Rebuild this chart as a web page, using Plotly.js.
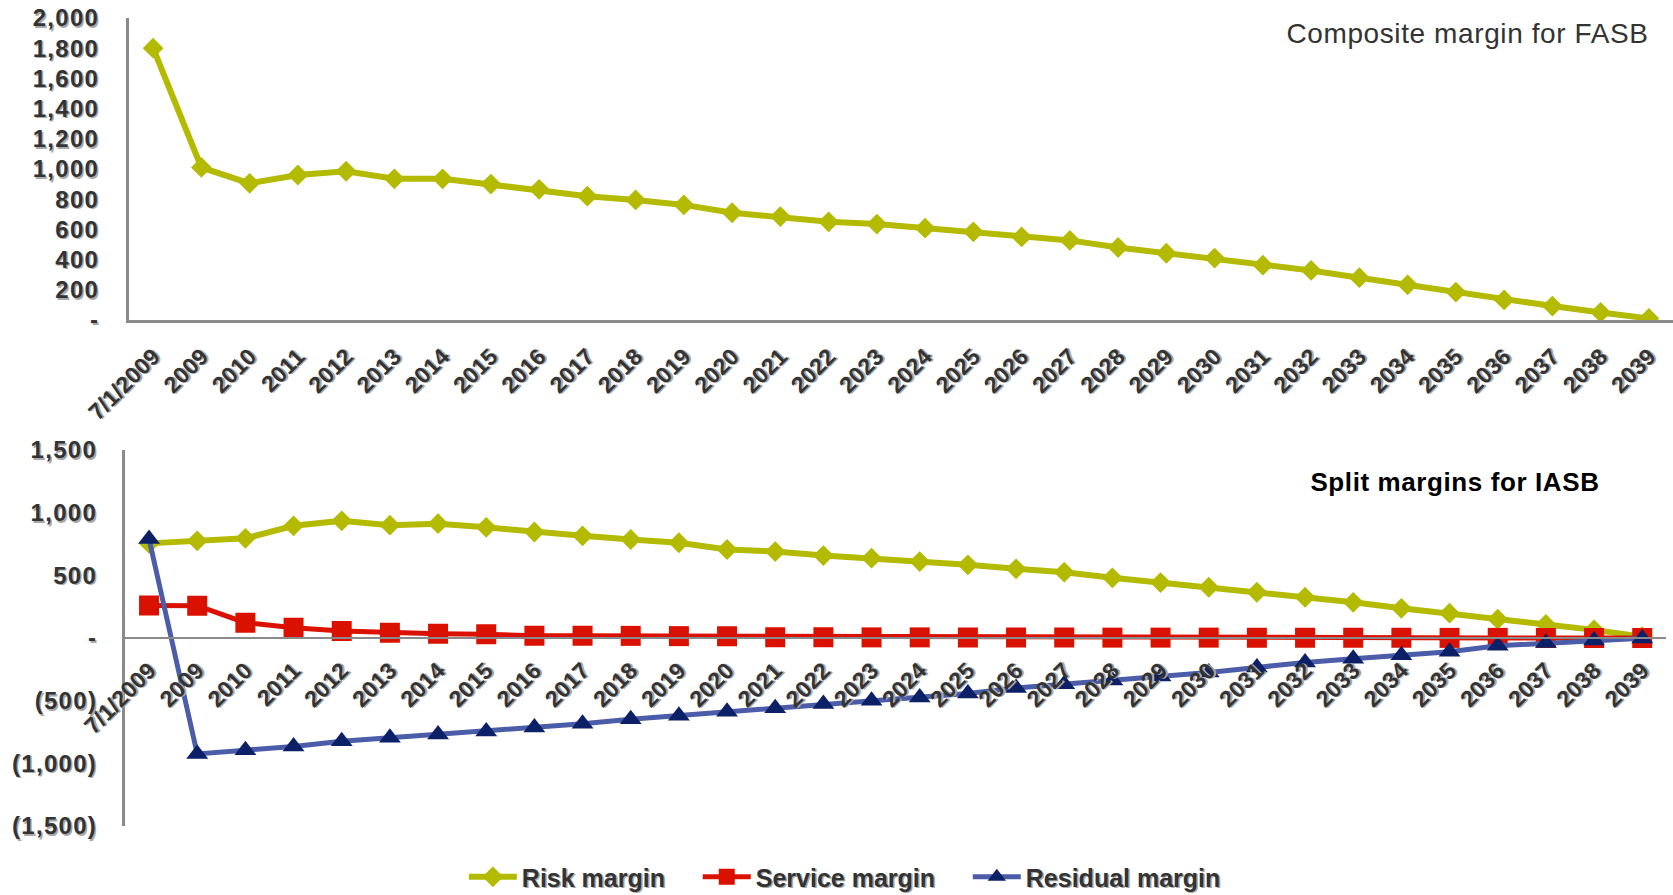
<!DOCTYPE html>
<html>
<head>
<meta charset="utf-8">
<script src="https://cdn.plot.ly/plotly-3.0.1.min.js"></script>
<style>
  html, body { margin: 0; padding: 0; background: #ffffff; }
  #chart { width: 1673px; height: 895px; }
  /* slightly widened lettering for the value-axis labels */
  #chart .ytick text, #chart .y2tick text { letter-spacing: 1.3px; }
  #chart .annotation-text { letter-spacing: 0.6px; }
</style>
</head>
<body>
<div id="chart"></div>
<script>
// Projection periods
const periods = ['7/1/2009', '2009', '2010', '2011', '2012', '2013', '2014', '2015', '2016', '2017',
  '2018', '2019', '2020', '2021', '2022', '2023', '2024', '2025', '2026', '2027', '2028', '2029',
  '2030', '2031', '2032', '2033', '2034', '2035', '2036', '2037', '2038', '2039'];

// FASB: single composite margin
const compositeMargin = [1800, 1010, 905, 960, 985, 935, 935, 900, 865, 820, 795, 762, 710, 685, 650, 635,
  608, 584, 550, 527, 480, 442, 410, 363, 328, 280, 233, 185, 133, 92, 50, 10];

// IASB: split margins
const riskMargin = [755, 775, 795, 895, 935, 900, 912, 883, 846, 815, 786, 760, 706, 690, 658, 637,
  610, 584, 552, 525, 480, 442, 405, 365, 325, 285, 237, 198, 150, 108, 65, 10];
const serviceMargin = [260, 258, 122, 82, 56, 42, 34, 30, 18, 18, 17, 15, 14, 6, 6, 5,
  5, 4, 4, 4, 3, 3, 3, 2, 2, 2, 2, 1, 1, 1, 1, 0];
const residualMargin = [790, -925, -895, -865, -823, -795, -770, -745, -715, -685, -648, -620, -588, -560, -527, -500,
  -474, -442, -398, -368, -340, -308, -275, -235, -195, -165, -138, -110, -62, -40, -20, -3];

// Axis tick labels
const topTickVals = [0, 200, 400, 600, 800, 1000, 1200, 1400, 1600, 1800, 2000];
const topTickText = ['-', '200', '400', '600', '800', '1,000', '1,200', '1,400', '1,600', '1,800', '2,000'];
const bottomTickVals = [-1500, -1000, -500, 0, 500, 1000, 1500];
const bottomTickText = ['(1,500)', '(1,000)', '(500)', '-', '500', '1,000', '1,500'];

// Legend entry padding (non-breaking spaces keep the entries apart)
const GAP = '\u00A0\u00A0\u00A0\u00A0';

const OLIVE = '#b4ba00';
const RED = '#db1100';
const BLUE_LINE = '#4b5ca8';
const NAVY = '#0b2066';
const AXIS_GREY = '#8a8a8a';
const FONT = 'Arial, "Liberation Sans", sans-serif';
const SHADOW = '1.5px 1.5px 0px #a8a8a8';
const valueFont = { family: FONT, size: 24, color: '#333333', weight: 'bold', shadow: SHADOW };
const periodFont = { family: FONT, size: 23, color: '#333333', weight: 'bold', shadow: SHADOW };
const legendFont = { family: FONT, size: 25, color: '#333333', weight: 'bold', shadow: SHADOW };

const traces = [
  {
    x: periods, y: compositeMargin, xaxis: 'x', yaxis: 'y', type: 'scatter', mode: 'lines+markers',
    name: 'Composite margin', showlegend: false,
    line: { color: OLIVE, width: 6 },
    marker: { symbol: 'diamond', size: 16, color: OLIVE }
  },
  {
    x: periods, y: riskMargin, xaxis: 'x2', yaxis: 'y2', type: 'scatter', mode: 'lines+markers',
    name: 'Risk margin' + GAP,
    line: { color: OLIVE, width: 6 },
    marker: { symbol: 'diamond', size: 16, color: OLIVE }
  },
  {
    x: periods, y: serviceMargin, xaxis: 'x2', yaxis: 'y2', type: 'scatter', mode: 'lines+markers',
    name: 'Service margin' + GAP,
    line: { color: RED, width: 5 },
    marker: { symbol: 'square', size: 20, color: RED }
  },
  {
    x: periods, y: residualMargin, xaxis: 'x2', yaxis: 'y2', type: 'scatter', mode: 'lines+markers',
    name: 'Residual margin',
    line: { color: BLUE_LINE, width: 5 },
    marker: { symbol: 'triangle-up', size: 19, color: NAVY }
  }
];

const layout = {
  width: 1673, height: 895,
  margin: { l: 0, r: 0, t: 0, b: 0, autoexpand: false },
  paper_bgcolor: '#ffffff', plot_bgcolor: '#ffffff',
  font: { family: FONT, color: '#333333' },
  showlegend: true,
  legend: {
    orientation: 'h', x: 0.505, xanchor: 'center', y: 0.02, yanchor: 'middle',
    font: legendFont, itemwidth: 48, tracegroupgap: 0, bgcolor: 'rgba(0,0,0,0)'
  },
  xaxis: {
    type: 'category', domain: [0.0771, 1.0], anchor: 'y',
    range: [-0.5, 31.5], showline: true, linecolor: AXIS_GREY, linewidth: 3,
    showgrid: false, zeroline: false, ticks: '', tickangle: -45,
    ticklabelstandoff: 11, tickfont: periodFont
  },
  yaxis: {
    domain: [0.6425, 0.9799], anchor: 'x', range: [0, 2000],
    showline: true, linecolor: AXIS_GREY, linewidth: 3, showgrid: false, zeroline: false,
    ticks: '', tickvals: topTickVals, ticktext: topTickText,
    ticklabelstandoff: 22, tickfont: valueFont
  },
  xaxis2: {
    type: 'category', domain: [0.0747, 0.996], anchor: 'free', position: 0.2871,
    range: [-0.5, 31.5], showline: true, linecolor: AXIS_GREY, linewidth: 2,
    showgrid: false, zeroline: false, ticks: '', tickangle: -45,
    ticklabelstandoff: 9, tickfont: periodFont
  },
  yaxis2: {
    domain: [0.0771, 0.4972], anchor: 'x2', range: [-1500, 1500],
    showline: true, linecolor: AXIS_GREY, linewidth: 3, showgrid: false, zeroline: false,
    ticks: '', tickvals: bottomTickVals, ticktext: bottomTickText,
    ticklabelstandoff: 20, tickfont: valueFont
  },
  annotations: [
    {
      xref: 'paper', yref: 'paper', x: 0.982, y: 0.963, xanchor: 'right', yanchor: 'middle',
      text: 'Composite margin for FASB', showarrow: false,
      font: { family: FONT, size: 28, color: '#333333' }
    },
    {
      xref: 'paper', yref: 'paper', x: 0.9534, y: 0.4615, xanchor: 'right', yanchor: 'middle',
      text: '<b>Split margins for IASB</b>', showarrow: false,
      font: { family: FONT, size: 26, color: '#000000' }
    }
  ]
};

Plotly.newPlot('chart', traces, layout, { staticPlot: true, displayModeBar: false });
</script>
</body>
</html>
